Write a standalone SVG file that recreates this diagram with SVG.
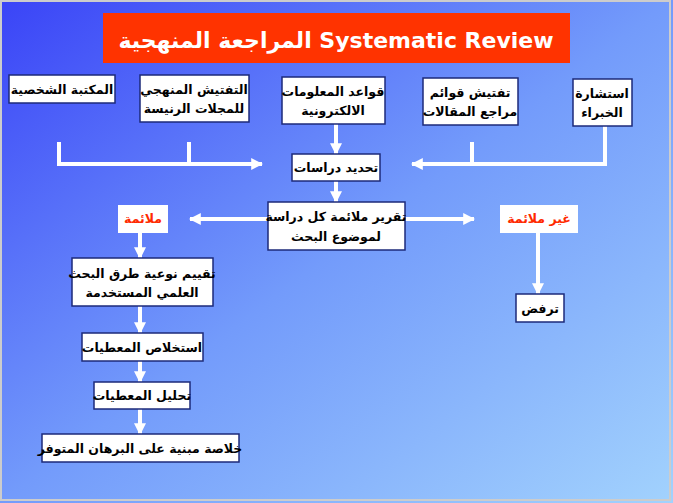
<svg xmlns="http://www.w3.org/2000/svg" width="673" height="503" viewBox="0 0 673 503">
<defs>
<linearGradient id="bg" x1="0" y1="0" x2="1" y2="1">
<stop offset="0" stop-color="#3a44f7"/><stop offset="0.5" stop-color="#739bfb"/><stop offset="1" stop-color="#a2d2fd"/>
</linearGradient>
<marker id="ah" viewBox="0 0 10 10" refX="9" refY="5" markerWidth="3" markerHeight="3" orient="auto" markerUnits="strokeWidth"><path d="M0,0L10,5L0,10z" fill="#fff"/></marker>
</defs>
<style>
.b{fill:#fff;stroke:#1c2a7a;stroke-width:1.5}
.t{font-family:"DejaVu Sans","Noto Sans",sans-serif;font-weight:bold;font-size:12.5px;fill:#000;text-anchor:middle}
.r{fill:#ff2a00}
.c{fill:none;stroke:#fff;stroke-width:4}
.a{marker-end:url(#ah)}
</style>
<rect width="673" height="503" fill="url(#bg)"/>
<rect x="1" y="1" width="669" height="499" fill="none" stroke="#ccc" stroke-width="2"/>
<g id="title"><rect x="103" y="13" width="467" height="50" fill="#ff3300"/><text x="336" y="48" text-anchor="middle" font-family="DejaVu Sans,sans-serif" font-weight="bold" font-size="22" fill="#fff">المراجعة المنهجية Systematic Review</text></g>
<g id="connectors">
<path class="c" d="M59,142V164H189V142M189,164H260" />
<path class="c a" d="M189,164H262"/>
<path class="c" d="M605,126V164H472V142"/>
<path class="c a" d="M472,164H412"/>
<path class="c a" d="M336,124V154"/>
<path class="c a" d="M336,181V202"/>
<path class="c a" d="M268,219H190"/>
<path class="c a" d="M405,219H474"/>
<path class="c a" d="M140,233V258"/>
<path class="c a" d="M538,233V294"/>
<path class="c a" d="M140,306V333"/>
<path class="c a" d="M140,361V382"/>
<path class="c a" d="M140,409V434"/>
</g>
<g id="n1"><rect class="b" x="9" y="75" width="106" height="28"/><text class="t" x="62" y="94">المكتبة الشخصية</text></g>
<g id="n2"><rect class="b" x="140" y="75" width="109" height="47"/><text class="t" x="194" y="94">التفتيش المنهجي</text><text class="t" x="194" y="113">للمجلات الرنيسة</text></g>
<g id="n3"><rect class="b" x="282" y="77" width="103" height="47"/><text class="t" x="333" y="96">قواعد المعلومات</text><text class="t" x="333" y="115">الالكترونية</text></g>
<g id="n4"><rect class="b" x="423" y="78" width="95" height="47"/><text class="t" x="470" y="97">تفتيش قوائم</text><text class="t" x="470" y="116">مراجع المقالات</text></g>
<g id="n5"><rect class="b" x="573" y="79" width="59" height="47"/><text class="t" x="602" y="98">استشارة</text><text class="t" x="602" y="117">الخبراء</text></g>
<g id="n6"><rect class="b" x="292" y="154" width="88" height="27"/><text class="t" x="336" y="172">تحديد دراسات</text></g>
<g id="n7"><rect class="b" x="268" y="202" width="137" height="48"/><text class="t" x="336" y="221">تقرير ملائمة كل دراسة</text><text class="t" x="336" y="241">لموضوع البحث</text></g>
<g id="n8"><rect x="118" y="205" width="50" height="28" fill="#fff"/><text class="t r" x="143" y="223">ملائمة</text></g>
<g id="n9"><rect x="500" y="205" width="78" height="28" fill="#fff"/><text class="t r" x="539" y="223">غير ملائمة</text></g>
<g id="n10"><rect class="b" x="72" y="258" width="141" height="48"/><text class="t" x="142" y="278">تقييم نوعية طرق البحث</text><text class="t" x="142" y="297">العلمي المستخدمة</text></g>
<g id="n11"><rect class="b" x="82" y="333" width="121" height="28"/><text class="t" x="142" y="352">استخلاص المعطيات</text></g>
<g id="n12"><rect class="b" x="94" y="382" width="96" height="27"/><text class="t" x="142" y="400">تحليل المعطيات</text></g>
<g id="n13"><rect class="b" x="42" y="434" width="197" height="28"/><text class="t" x="140" y="453">خلاصة مبنية على البرهان المتوفر</text></g>
<g id="n14"><rect class="b" x="516" y="294" width="48" height="28"/><text class="t" x="540" y="313">ترفض</text></g>
</svg>
